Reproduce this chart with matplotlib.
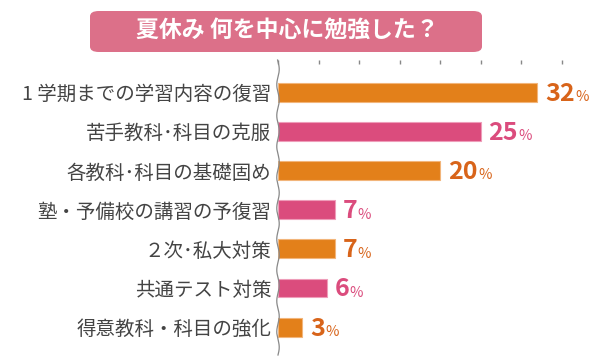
import numpy as np
import matplotlib.pyplot as plt
from matplotlib.patches import FancyBboxPatch

plt.rcParams['font.family'] = ['Noto Sans CJK JP', 'DejaVu Sans']

categories = ['1 学期までの学習内容の復習', '苦手教科･科目の克服', '各教科･科目の基礎固め',
              '塾・予備校の講習の予復習', '２次･私大対策', '共通テスト対策', '得意教科・科目の強化']
values = [32, 25, 20, 7, 7, 6, 3]
kinds = ['o', 'p', 'o', 'p', 'o', 'p', 'o']

bar_col = {'o': '#E3801A', 'p': '#DB4C7D'}
edge_col = {'o': '#F2B57A', 'p': '#EE9DB9'}
txt_col = {'o': '#D8641A', 'p': '#DB4C7D'}

fig = plt.figure(figsize=(5.9, 3.6), dpi=100)
ax = fig.add_axes([278 / 590, 5 / 360, 308 / 590, 295 / 360])

y = np.arange(len(values))
ax.barh(y, values, height=0.48,
        color=[bar_col[k] for k in kinds],
        edgecolor=[edge_col[k] for k in kinds], linewidth=0.8)
ax.set_xlim(0, 38)
ax.set_ylim(6.71, -0.82)

ax.set_yticks(y)
ax.set_yticklabels(categories, fontsize=14, color='#444444')
ax.tick_params(axis='y', length=0, pad=5)
ax.set_xticks(np.arange(0, 36, 5))
ax.tick_params(axis='x', top=True, bottom=False, labeltop=False, labelbottom=False,
               direction='in', length=3, width=1, color='#888888')
for s in ax.spines.values():
    s.set_visible(False)

# wavy axis line
t = np.linspace(0, 1, 400)
ax.plot(0.004 * np.sin(t * 60), t, transform=ax.transAxes, color='#888888',
        lw=0.9, clip_on=False)

fig.canvas.draw()
r = fig.canvas.get_renderer()
for i, (v, k) in enumerate(zip(values, kinds)):
    num = ax.annotate(str(v), (v, i), xytext=(5.5, -1), textcoords='offset points',
                      ha='left', va='center', fontsize=18, fontweight='bold',
                      color=txt_col[k])
    bb = num.get_window_extent(r)
    x_end, y_pos = ax.transData.inverted().transform((bb.x1, bb.y0))
    ax.annotate('%', (x_end, i), xytext=(0.5, -3.5), textcoords='offset points',
                ha='left', va='center', fontsize=10.5, color=txt_col[k])

# title box
box = FancyBboxPatch((90 / 590, 308 / 360), 392 / 590, 41 / 360,
                     boxstyle='round,pad=0,rounding_size=0.015',
                     transform=fig.transFigure, facecolor='#DC7089',
                     edgecolor='none')
fig.patches.append(box)
fig.text(287 / 590, 329 / 360, '夏休み 何を中心に勉強した？', ha='center', va='center',
         fontsize=16.5, fontweight='bold', color='white')

fig.savefig('out.png', dpi=100)
